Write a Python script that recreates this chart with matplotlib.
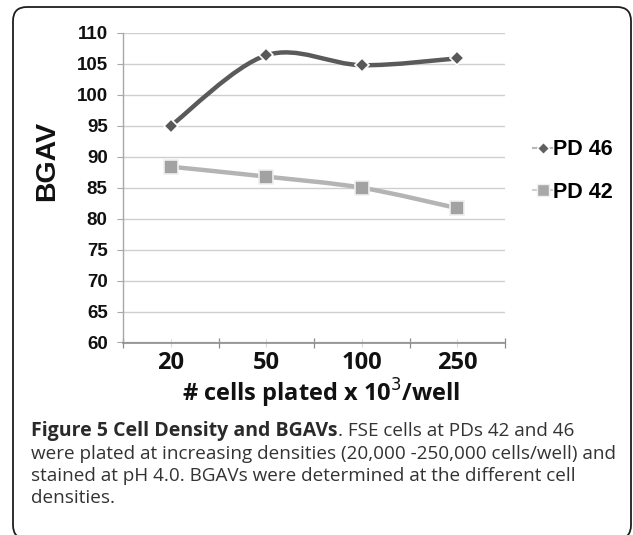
import matplotlib
matplotlib.use("Agg")
import matplotlib.pyplot as plt
from matplotlib.path import Path
from matplotlib.patches import PathPatch, FancyBboxPatch
from matplotlib.lines import Line2D
import numpy as np

# ---- data ----
categories = ["20", "50", "100", "250"]
pd46 = [95.0, 106.4, 104.8, 105.9]
pd42 = [88.4, 86.8, 85.0, 81.7]
series_names = ["PD 46", "PD 42"]
y_ticks = [60, 65, 70, 75, 80, 85, 90, 95, 100, 105, 110]
x_label = "# cells plated x 10$^{3}$/well"
y_label = "BGAV"
caption_bold = "Figure 5 Cell Density and BGAVs"
caption_lines = [
    ". FSE cells at PDs 42 and 46",
    "were plated at increasing densities (20,000 -250,000 cells/well) and",
    "stained at pH 4.0. BGAVs were determined at the different cell",
    "densities.",
]

W, H = 633, 535
fig = plt.figure(figsize=(W / 100, H / 100), dpi=100)

def fx(px):
    return px / W

def fy(py):
    return 1 - py / H

# frame
frame = FancyBboxPatch((fx(13), fy(539)), fx(631) - fx(13), fy(7) - fy(539),
                       boxstyle="round,pad=0,rounding_size=0.022",
                       transform=fig.transFigure, facecolor="none",
                       edgecolor="#1e1e1e", linewidth=1.3, zorder=-1,
                       mutation_aspect=W / H)
fig.patches.append(frame)

ax_l, ax_r, ax_t, ax_b = 123, 505, 33, 342.5
ax = fig.add_axes([fx(ax_l), fy(ax_b), fx(ax_r) - fx(ax_l), fy(ax_t) - fy(ax_b)])
ax.set_facecolor("none")
xs = np.arange(len(categories))
ax.set_xlim(-0.5, len(categories) - 0.5)
ax.set_ylim(60, 110)

for sp in ["top", "right"]:
    ax.spines[sp].set_visible(False)
ax.spines["left"].set_color("#a8a8a8")
ax.spines["bottom"].set_color("#8c8c8c")
ax.spines["left"].set_linewidth(1.0)
ax.spines["bottom"].set_linewidth(1.2)

ax.set_yticks(y_ticks)
ax.set_yticklabels([str(v) for v in y_ticks], fontfamily="Liberation Sans",
                   fontweight="bold", fontsize=13.5, color="#111111")
ax.tick_params(axis="y", length=4, width=0.8, color="#a8a8a8", pad=7)
ax.yaxis.grid(True, color="#cfcfcf", linewidth=1.0)
ax.set_axisbelow(True)

ax.set_xticks(np.arange(-0.5, len(categories), 1.0))
ax.set_xticklabels([])
ax.set_xticks(xs, minor=True)
ax.set_xticklabels(categories, minor=True, fontfamily="Open Sans",
                   fontweight="bold", fontsize=17, color="#111111")
ax.tick_params(axis="x", which="major", direction="inout", length=7,
               width=0.9, color="#8c8c8c")
ax.tick_params(axis="x", which="minor", direction="inout", length=6,
               width=0.8, color="#d8d8d8", pad=3)


def smooth_path(x, y):
    pts = np.column_stack([x, y]).astype(float)
    n = len(pts)
    verts = [pts[0]]
    codes = [Path.MOVETO]
    for i in range(n - 1):
        p0 = pts[i - 1] if i > 0 else pts[i]
        p1 = pts[i]
        p2 = pts[i + 1]
        p3 = pts[i + 2] if i + 2 < n else pts[i + 1]
        c1 = p1 + (p2 - p0) / 6.0
        c2 = p2 - (p3 - p1) / 6.0
        verts += [c1, c2, p2]
        codes += [Path.CURVE4] * 3
    return Path(verts, codes)


# PD 42 line
ax.add_patch(PathPatch(smooth_path(xs, pd42), facecolor="none",
                       edgecolor="#b4b4b4", linewidth=3.2, zorder=3,
                       capstyle="round"))
# PD 46 line
ax.add_patch(PathPatch(smooth_path(xs, pd46), facecolor="none",
                       edgecolor="#5a5a5a", linewidth=3.2, zorder=4,
                       capstyle="round"))

ax.plot(xs, pd42, linestyle="none", marker="s", markersize=9.5,
        markerfacecolor="#a2a2a2", markeredgecolor="#f0f0f0",
        markeredgewidth=1.2, zorder=5)
ax.plot(xs, pd46, linestyle="none", marker="D", markersize=7.5,
        markerfacecolor="#585858", markeredgecolor="#ffffff",
        markeredgewidth=1.2, zorder=6)

# legend
handles = [
    Line2D([0], [0], color="#b8b8b8", linewidth=1.5, marker="D",
           markersize=6.5, markerfacecolor="#606060", markeredgecolor="#ffffff"),
    Line2D([0], [0], color="#d0d0d0", linewidth=1.5, marker="s",
           markersize=8, markerfacecolor="#a8a8a8", markeredgecolor="#f0f0f0"),
]
leg = fig.legend(handles, series_names, loc="center left",
                 bbox_to_anchor=(fx(514), fy(171)), frameon=False,
                 handlelength=0.85, handletextpad=0.05, labelspacing=1.0,
                 prop={"family": "Liberation Sans", "weight": "bold",
                       "size": 15.5})

# axis labels
fig.text(fx(47), fy(161), y_label, rotation=90, ha="center", va="center",
         fontfamily="Liberation Sans", fontweight="bold", fontsize=20.5,
         color="#111111")
fig.text(fx(321.5), fy(402), x_label, ha="center", va="baseline",
         fontfamily="Open Sans", fontweight="bold", fontsize=17,
         color="#111111")

# caption
cap_color = "#333333"
baselines = [436, 459, 481, 503]
cap_size = 13.6
t0 = fig.text(fx(31), fy(baselines[0]), caption_bold, ha="left",
              va="baseline", fontfamily="Open Sans", fontweight="bold",
              fontsize=14.0, color="#2a2a2a")
fig.canvas.draw()
r = fig.canvas.get_renderer()
bb = t0.get_window_extent(r)
fig.text(bb.x1 / W, fy(baselines[0]), caption_lines[0], ha="left",
         va="baseline", fontfamily="Open Sans", fontsize=cap_size,
         color=cap_color)
for line, b in zip(caption_lines[1:], baselines[1:]):
    fig.text(fx(31), fy(b), line, ha="left", va="baseline",
             fontfamily="Open Sans", fontsize=cap_size, color=cap_color)

fig.savefig("out.png", dpi=100, facecolor="white")
